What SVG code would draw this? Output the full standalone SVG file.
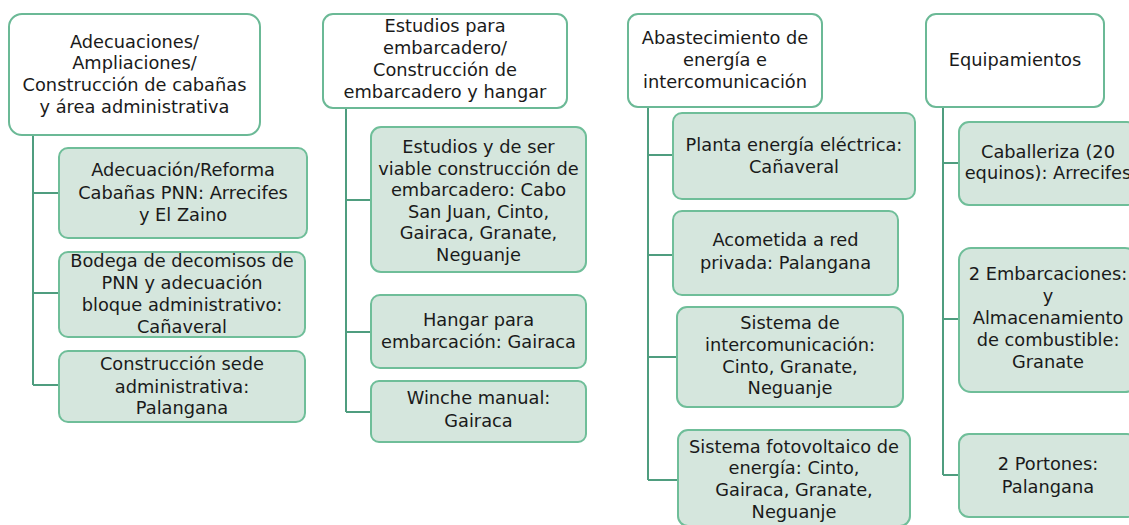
<svg xmlns="http://www.w3.org/2000/svg" width="1129" height="525" viewBox="0 0 1129 525">
<style>
.hdr{fill:#ffffff;stroke:#6bb996;stroke-width:2}
.box{fill:#d5e6dd;stroke:#6fbe99;stroke-width:2}
.t{font-family:"DejaVu Sans","Liberation Sans",sans-serif;font-size:17.8px;fill:#1a1a1a;text-anchor:middle}
.c{fill:none;stroke:#4f9d7f;stroke-width:2}
</style>
<rect width="1129" height="525" fill="#ffffff"/>
<g id="connectors">
<path class="c" d="M33,135 V385 M33,193 H59 M33,293 H59 M33,385 H59"/>
<path class="c" d="M346,108 V412 M346,200 H371 M346,332 H371 M346,412 H371"/>
<path class="c" d="M648,107 V480 M648,155 H673 M648,255 H673 M648,357 H677 M648,480 H678"/>
<path class="c" d="M943,107 V475 M943,163 H959 M943,319 H959 M943,475 H959"/>
</g>
<g id="h1"><rect class="hdr" x="9" y="14" width="251" height="121" rx="13"/>
<text class="t"><tspan x="134.5" y="48">Adecuaciones/</tspan><tspan x="134.5" y="69">Ampliaciones/</tspan><tspan x="134.5" y="91">Construcción de cabañas</tspan><tspan x="134.5" y="113">y área administrativa</tspan></text></g>
<g id="n1a"><rect class="box" x="59" y="148" width="248" height="90" rx="9"/>
<text class="t"><tspan x="183" y="176">Adecuación/Reforma</tspan><tspan x="183" y="199">Cabañas PNN: Arrecifes</tspan><tspan x="183" y="221">y El Zaino</tspan></text></g>
<g id="n1b"><rect class="box" x="59" y="252" width="246" height="85" rx="9"/>
<text class="t"><tspan x="182" y="267">Bodega de decomisos de</tspan><tspan x="182" y="289">PNN y adecuación</tspan><tspan x="182" y="311">bloque administrativo:</tspan><tspan x="182" y="333">Cañaveral</tspan></text></g>
<g id="n1c"><rect class="box" x="59" y="351" width="246" height="71" rx="9"/>
<text class="t"><tspan x="182" y="370">Construcción sede</tspan><tspan x="182" y="393">administrativa:</tspan><tspan x="182" y="414">Palangana</tspan></text></g>

<g id="h2"><rect class="hdr" x="323" y="14" width="244" height="94" rx="10"/>
<text class="t"><tspan x="445" y="32">Estudios para</tspan><tspan x="445" y="54">embarcadero/</tspan><tspan x="445" y="76">Construcción de</tspan><tspan x="445" y="98">embarcadero y hangar</tspan></text></g>
<g id="n2a"><rect class="box" x="371" y="127" width="215" height="145" rx="10"/>
<text class="t"><tspan x="478.5" y="153">Estudios y de ser</tspan><tspan x="478.5" y="175">viable construcción de</tspan><tspan x="478.5" y="196">embarcadero: Cabo</tspan><tspan x="478.5" y="218">San Juan, Cinto,</tspan><tspan x="478.5" y="239">Gairaca, Granate,</tspan><tspan x="478.5" y="261">Neguanje</tspan></text></g>
<g id="n2b"><rect class="box" x="371" y="295" width="215" height="73" rx="9"/>
<text class="t"><tspan x="478.5" y="326">Hangar para</tspan><tspan x="478.5" y="348">embarcación: Gairaca</tspan></text></g>
<g id="n2c"><rect class="box" x="371" y="381" width="215" height="61" rx="8"/>
<text class="t"><tspan x="478.5" y="404">Winche manual:</tspan><tspan x="478.5" y="427">Gairaca</tspan></text></g>

<g id="h3"><rect class="hdr" x="628" y="14" width="194" height="93" rx="10"/>
<text class="t"><tspan x="725" y="44">Abastecimiento de</tspan><tspan x="725" y="66">energía e</tspan><tspan x="725" y="88">intercomunicación</tspan></text></g>
<g id="n3a"><rect class="box" x="673" y="113" width="242" height="86" rx="9"/>
<text class="t"><tspan x="794" y="151">Planta energía eléctrica:</tspan><tspan x="794" y="173">Cañaveral</tspan></text></g>
<g id="n3b"><rect class="box" x="673" y="211" width="225" height="84" rx="9"/>
<text class="t"><tspan x="785.5" y="246">Acometida a red</tspan><tspan x="785.5" y="269">privada: Palangana</tspan></text></g>
<g id="n3c"><rect class="box" x="677" y="307" width="226" height="100" rx="10"/>
<text class="t"><tspan x="790" y="329">Sistema de</tspan><tspan x="790" y="351">intercomunicación:</tspan><tspan x="790" y="373">Cinto, Granate,</tspan><tspan x="790" y="394">Neguanje</tspan></text></g>
<g id="n3d"><rect class="box" x="678" y="430" width="232" height="96" rx="10"/>
<text class="t"><tspan x="794" y="453">Sistema fotovoltaico de</tspan><tspan x="794" y="474">energía: Cinto,</tspan><tspan x="794" y="496">Gairaca, Granate,</tspan><tspan x="794" y="518">Neguanje</tspan></text></g>

<g id="h4"><rect class="hdr" x="926" y="14" width="178" height="93" rx="10"/>
<text class="t"><tspan x="1015" y="66">Equipamientos</tspan></text></g>
<g id="n4a"><rect class="box" x="959" y="122" width="178" height="83" rx="10"/>
<text class="t"><tspan x="1048" y="158">Caballeriza (20</tspan><tspan x="1048" y="179">equinos): Arrecifes</tspan></text></g>
<g id="n4b"><rect class="box" x="959" y="248" width="178" height="144" rx="12"/>
<text class="t"><tspan x="1048" y="280">2 Embarcaciones:</tspan><tspan x="1048" y="302">y</tspan><tspan x="1048" y="324">Almacenamiento</tspan><tspan x="1048" y="346">de combustible:</tspan><tspan x="1048" y="368">Granate</tspan></text></g>
<g id="n4c"><rect class="box" x="959" y="434" width="178" height="83" rx="10"/>
<text class="t"><tspan x="1048" y="470">2 Portones:</tspan><tspan x="1048" y="493">Palangana</tspan></text></g>
</svg>
